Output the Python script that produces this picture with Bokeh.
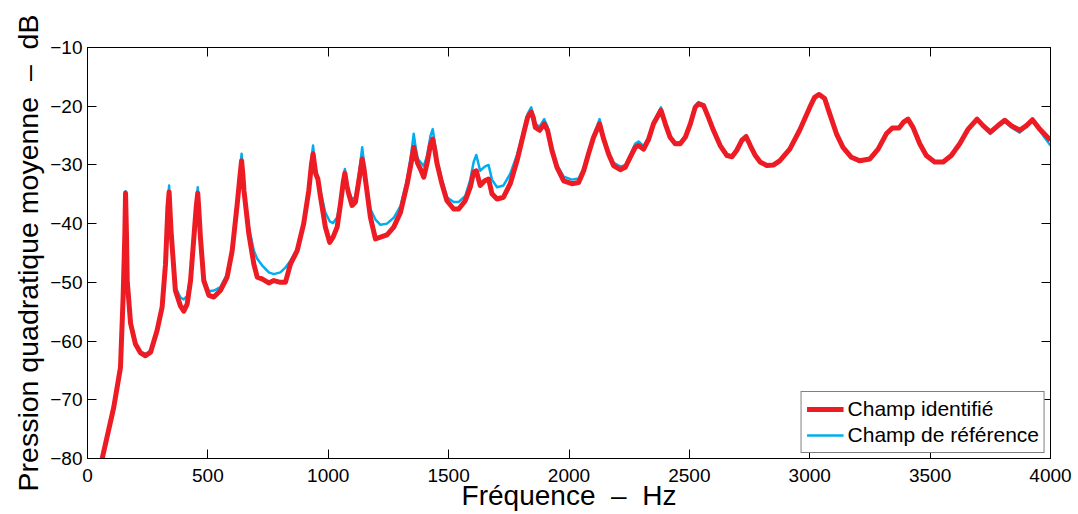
from bokeh.plotting import figure
from bokeh.models import LinearAxis, FixedTicker, Legend, LegendItem, Range1d
from bokeh.embed import file_html
from bokeh.resources import INLINE

# Frequency (Hz)
freq = [61, 109, 137, 148, 155, 158, 162, 165, 179, 199, 220, 241, 262, 289, 310, 324, 334, 339, 343, 347,
        365, 386, 400, 414, 428, 444, 452, 458, 463, 469, 483, 504, 525, 552, 580, 601, 622, 633, 640, 645,
        650, 670, 691, 705, 725, 753, 774, 801, 822, 843, 871, 898, 919, 930, 937, 943, 948, 957, 968, 988,
        1006, 1020, 1037, 1051, 1062, 1069, 1077, 1085, 1099, 1113, 1127, 1141, 1148, 1155, 1175, 1196, 1217, 1244, 1272, 1300,
        1328, 1345, 1355, 1363, 1372, 1383, 1397, 1410, 1425, 1434, 1443, 1452, 1472, 1493, 1521, 1542, 1569, 1590, 1604, 1615,
        1631, 1650, 1666, 1680, 1701, 1728, 1756, 1784, 1811, 1828, 1843, 1852, 1860, 1878, 1897, 1911, 1929, 1950, 1978, 2012,
        2040, 2061, 2081, 2102, 2127, 2144, 2164, 2185, 2213, 2234, 2254, 2275, 2289, 2310, 2331, 2351, 2382, 2400, 2420, 2441,
        2462, 2483, 2504, 2524, 2538, 2559, 2579, 2600, 2628, 2656, 2677, 2697, 2718, 2736, 2753, 2774, 2794, 2822, 2850, 2875,
        2917, 2958, 3000, 3020, 3039, 3062, 3083, 3111, 3138, 3173, 3208, 3249, 3284, 3318, 3343, 3371, 3390, 3408, 3429, 3457,
        3484, 3519, 3554, 3588, 3623, 3658, 3695, 3720, 3750, 3782, 3810, 3837, 3872, 3900, 3925, 3955, 4000]

# Champ identifié (dB)
champ_identifie = [-80, -71.3, -64.5, -52.5, -42, -34.8, -42, -49.7, -57, -60.5, -62, -62.5, -61.9, -58.2, -54.2, -46.9, -37.2, -34.6, -38, -41.2,
                    -51.4, -54.0, -54.9, -53.7, -49.7, -41.2, -37, -34.8, -38, -42.3, -49.7, -52.2, -52.5, -51.4, -49.1, -44.6, -36.6, -32, -29.3, -31.5,
                    -34.4, -41.7, -46.9, -49.1, -49.4, -50.1, -49.7, -50.0, -50.0, -46.9, -44.6, -40.0, -34.4, -30, -28.1, -30, -31.5, -32.4, -35.5, -40.6,
                    -43.2, -42.3, -40.6, -36.6, -33, -31.4, -33.5, -34.9, -36.9, -36.3, -32.7, -29.0, -30.5, -32.7, -38.9, -42.6, -42.3, -41.9, -40.6, -38.1,
                    -33.2, -29.5, -27.0, -28.5, -29.8, -30.7, -32.1, -29.8, -26.5, -25.6, -27.5, -29.8, -33.2, -36.1, -37.5, -37.5, -36.1, -33.8, -31.2, -31.0,
                    -33.5, -32.7, -32.4, -34.9, -35.8, -35.5, -33.2, -29.3, -24.7, -21.9, -21.0, -22, -23.6, -24.1, -23.0, -24.1, -27.5, -30.4, -32.7, -33.2,
                    -33.0, -31.0, -28.1, -25.3, -23.0, -25.6, -28.1, -30.1, -30.8, -30.4, -28.7, -27.0, -26.7, -27.3, -25.6, -23.0, -20.7, -23.0, -25.3, -26.4,
                    -26.4, -25.3, -23.0, -20.2, -19.6, -19.9, -21.9, -24.1, -26.7, -28.4, -28.6, -27.5, -25.8, -25.2, -26.7, -28.4, -29.5, -30.1, -30.0, -29.3,
                    -27.3, -24.1, -20.2, -18.5, -18.0, -18.7, -21.3, -24.7, -27.0, -28.7, -29.3, -29.0, -27.3, -24.7, -23.7, -23.7, -22.7, -22.2, -23.6, -26.4,
                    -28.4, -29.5, -29.5, -28.4, -26.4, -23.9, -22.2, -23.3, -24.4, -23.3, -22.4, -23.3, -24.1, -23.3, -22.3, -23.9, -25.8]

# Champ de référence (dB)
champ_reference = [-80, -71.3, -64.5, -52.5, -42, -34.5, -42, -49.5, -57, -60.3, -61.8, -62.2, -61.6, -58, -54, -46.7, -36.5, -33.5, -37.5, -41,
                   -50.8, -52.6, -52.9, -52.3, -49.0, -41, -36.5, -33.8, -37.5, -42, -49.3, -51.5, -51.4, -50.8, -48.6, -44.4, -36.4, -31.5, -28.1, -31,
                   -34, -40.5, -44.6, -46.0, -47.1, -48.3, -48.6, -48.3, -47.5, -46.3, -44.3, -39.8, -34, -29, -26.7, -29.5, -30.8, -32, -34.5, -38.1,
                   -39.6, -39.9, -38.9, -36.1, -32.5, -30.7, -33, -34.5, -35.8, -35.5, -31.8, -27.0, -29.5, -32, -37.5, -39.3, -40.2, -40.0, -39.0, -37,
                   -32.3, -28, -24.7, -27, -29, -29.5, -30.2, -28.5, -25, -23.9, -26.5, -29, -32.5, -35.5, -36.3, -36.3, -35.3, -32.5, -29.5, -28.3,
                   -31, -30.3, -30.0, -32.5, -33.8, -33.5, -31.5, -28.3, -24.2, -21.3, -20.2, -21.5, -23, -23.5, -22.2, -23.5, -27, -30, -32, -32.5,
                   -32.3, -30.5, -27.8, -25, -22.2, -25.2, -27.8, -29.6, -30.3, -30, -28.3, -26.4, -26.0, -26.8, -25.2, -22.7, -20.2, -22.8, -25.1, -26.2,
                   -26.2, -25.1, -22.8, -19.9, -19.3, -19.7, -21.7, -24, -26.6, -28.2, -28.4, -27.3, -25.6, -24.9, -26.5, -28.3, -29.4, -30.0, -29.9, -29.2,
                   -27.2, -24.0, -20.1, -18.4, -17.9, -18.6, -21.2, -24.6, -26.9, -28.6, -29.2, -28.9, -27.2, -24.6, -23.6, -23.6, -22.6, -22.1, -23.5, -26.3,
                   -28.3, -29.4, -29.4, -28.3, -26.3, -23.8, -22.1, -23.4, -24.7, -23.5, -22.6, -23.6, -24.5, -23.5, -22.4, -24.2, -26.7]

x_ticks = [0, 500, 1000, 1500, 2000, 2500, 3000, 3500, 4000]
y_ticks = [-80, -70, -60, -50, -40, -30, -20, -10]

FONT = "Liberation Sans"
RED = "#ED1C24"
BLUE = "#00AEEF"
NB = "\u00a0"

p = figure(width=1078, height=514,
           x_range=Range1d(0, 4000), y_range=Range1d(-80, -10),
           output_backend="svg", toolbar_location=None,
           min_border_left=87, min_border_right=28, min_border_top=47, min_border_bottom=56)

p.grid.visible = False
p.outline_line_color = "#000000"
p.outline_line_width = 1
p.background_fill_color = "white"
p.border_fill_color = "white"

r_blue = p.line(freq, champ_reference, line_color=BLUE, line_width=2.5, line_join="round")
r_red = p.line(freq, champ_identifie, line_color=RED, line_width=5, line_join="round")


def style_axis(ax, ticks, labels=True):
    ax.ticker = FixedTicker(ticks=ticks)
    ax.minor_tick_line_color = None
    ax.major_tick_in = 9
    ax.major_tick_out = 0
    ax.axis_line_color = "#000000"
    ax.major_tick_line_color = "#000000"
    ax.major_label_text_font = FONT
    ax.major_label_text_color = "#000000"
    ax.major_label_text_font_size = "19px"
    if not labels:
        ax.major_label_overrides = {t: "" for t in ticks}
        ax.major_label_standoff = 0


xa = p.xaxis[0]
ya = p.yaxis[0]
style_axis(xa, x_ticks)
style_axis(ya, y_ticks)
ya.major_label_overrides = {v: ("\u2212" + str(abs(v)) if v < 0 else str(v)) for v in y_ticks}
xa.major_label_standoff = 10
ya.major_label_standoff = 5

xa.axis_label = "Fr\u00e9quence" + NB * 2 + "\u2013" + NB * 2 + "Hz"
ya.axis_label = "Pression quadratique moyenne" + NB * 2 + "\u2013" + NB * 2 + "dB"
for ax in (xa, ya):
    ax.axis_label_text_font = FONT
    ax.axis_label_text_font_style = "normal"
    ax.axis_label_text_color = "#000000"
xa.axis_label_text_font_size = "28px"
ya.axis_label_text_font_size = "28.5px"
xa.axis_label_standoff = -5
ya.axis_label_standoff = 3

top = LinearAxis()
right = LinearAxis()
style_axis(top, x_ticks, labels=False)
style_axis(right, y_ticks, labels=False)
p.add_layout(top, "above")
p.add_layout(right, "right")

legend = Legend(items=[LegendItem(label="Champ identifi\u00e9", renderers=[r_red]),
                       LegendItem(label="Champ de r\u00e9f\u00e9rence", renderers=[r_blue])],
                location="bottom_right")
legend.margin = 5
legend.padding = 5
legend.spacing = 2
legend.glyph_width = 37
legend.label_standoff = 4
legend.label_text_font = FONT
legend.label_text_font_size = "21px"
legend.label_text_color = "#000000"
legend.border_line_color = "#000000"
legend.border_line_width = 1
legend.background_fill_alpha = 1
p.add_layout(legend)

open("out.html", "w").write(file_html(p, INLINE))
